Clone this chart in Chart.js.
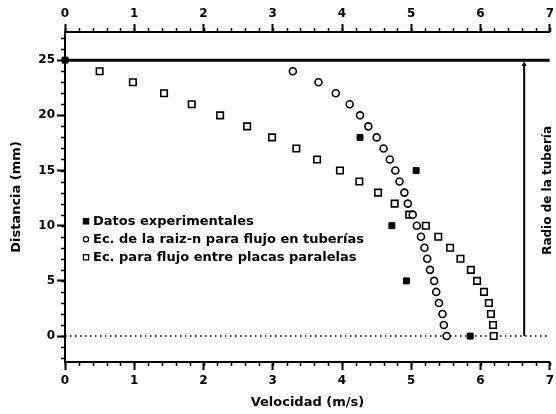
<!DOCTYPE html>
<html>
<head>
<meta charset="utf-8">
<script src="https://cdn.jsdelivr.net/npm/chart.js@4"></script>
<style>
    html, body { margin: 0; padding: 0; background: #ffffff; }
    #wrap { width: 556px; height: 414px; }
</style>
</head>
<body>
<div id="wrap"><canvas id="chart" width="556" height="414"></canvas></div>
<script>

// ==========================================================
// DATA
// ==========================================================

// distance from the pipe centre (mm) for the model curves
const modelDistance = [
    0, 1, 2, 3, 4, 5, 6, 7, 8, 9, 10, 11, 12,
    13, 14, 15, 16, 17, 18, 19, 20, 21, 22, 23, 24
];

// Ec. de la raiz-n (m/s)
const rootNVelocity = [
    5.51, 5.47, 5.45, 5.40, 5.36, 5.33, 5.27, 5.23, 5.19,
    5.14, 5.08, 5.02, 4.95, 4.90, 4.83, 4.77, 4.69, 4.60,
    4.50, 4.38, 4.26, 4.11, 3.91, 3.66, 3.29
];

// Ec. placas paralelas (m/s)
const plateVelocity = [
    6.19, 6.18, 6.15, 6.12, 6.05, 5.95, 5.86, 5.71, 5.56,
    5.39, 5.21, 4.97, 4.76, 4.52, 4.25, 3.97, 3.64, 3.34,
    2.99, 2.63, 2.24, 1.83, 1.43, 0.98, 0.50
];

// experimental points
const expDistance = [0, 5, 10, 15, 18, 25];
const expVelocity = [5.85, 4.93, 4.72, 5.07, 4.26, 0];

// reference lines
const wallDistance = 25;
const centreDistance = 0;
const radiusArrowX = 6.63;
const radiusArrowTop = 24.6;

// axes
const xMin = 0;
const xMax = 7;
const yMin = -2.35;
const yMax = 27.55;
const xTicks = [0, 1, 2, 3, 4, 5, 6, 7];
const yTicks = [0, 5, 10, 15, 20, 25];
const xMinorStep = 0.2;
const yMinorStep = 1;

const seriesLabels = [
    "Datos experimentales",
    "Ec. de la raiz-n para flujo en tuberías",
    "Ec. para flujo entre placas paralelas"
];

const radiusLabel = "Radio de la tubería";

// ==========================================================
// HELPERS
// ==========================================================

function toPoints(xs, ys) {
    return xs.map((x, i) => ({ x: x, y: ys[i] }));
}

const FONT = "'DejaVu Sans', 'Liberation Sans', Arial, sans-serif";

function setTicks(list) {
    return scale => {
        scale.ticks = list.map(v => ({ value: v }));
    };
}

// ==========================================================
// MINOR TICKS + LEGEND + RADIUS TEXT
// ==========================================================

const decorPlugin = {

    id: "decor",

    afterDraw(chart) {

        const ctx = chart.ctx;
        const area = chart.chartArea;
        const xs = chart.scales.x;
        const ys = chart.scales.y;

        ctx.save();
        ctx.strokeStyle = "#000";
        ctx.lineWidth = 1.5;

        // minor ticks, x (top and bottom)
        ctx.beginPath();
        for (let v = xMin; v <= xMax + 1e-6; v += xMinorStep) {
            const px = Math.round(xs.getPixelForValue(v)) + 0.5;
            ctx.moveTo(px, area.bottom);
            ctx.lineTo(px, area.bottom + 4);
            ctx.moveTo(px, area.top);
            ctx.lineTo(px, area.top - 4);
        }
        // minor ticks, y
        for (let v = Math.ceil(yMin); v <= yMax; v += yMinorStep) {
            const py = Math.round(ys.getPixelForValue(v)) + 0.5;
            ctx.moveTo(area.left, py);
            ctx.lineTo(area.left - 4, py);
        }
        ctx.stroke();

        // legend
        const lx = area.left + 21;
        const ly = ys.getPixelForValue(10.4);
        ctx.font = "bold 13px " + FONT;
        ctx.fillStyle = "#000";
        ctx.textBaseline = "middle";
        ctx.textAlign = "left";

        [0, 1, 2].forEach(i => {
            const ds = chart.data.datasets[i];
            const y = ly + i * 18;
            ctx.lineWidth = 1.3;
            ctx.fillStyle = ds.backgroundColor;
            ctx.strokeStyle = "#000";
            if (ds.pointStyle === "circle") {
                ctx.beginPath();
                ctx.arc(lx, y, 2.6, 0, Math.PI * 2);
                ctx.fill();
                ctx.stroke();
            } else {
                ctx.fillRect(lx - 2.6, y - 2.6, 5.2, 5.2);
                ctx.strokeRect(lx - 2.6, y - 2.6, 5.2, 5.2);
            }
            ctx.fillStyle = "#000";
            ctx.fillText(ds.label, lx + 7, y + 0.5);
        });

        // radius text
        ctx.font = "bold 12px " + FONT;
        const tx = xs.getPixelForValue(radiusArrowX) + 24;
        const ty = ys.getPixelForValue(13.2);
        ctx.translate(tx, ty);
        ctx.rotate(-Math.PI / 2);
        ctx.textAlign = "center";
        ctx.fillText(radiusLabel, 0, 0);

        ctx.restore();
    }
};

// ==========================================================
// CHART
// ==========================================================

const tickFont = { family: FONT, size: 12, weight: "bold" };
const titleFont = { family: FONT, size: 13, weight: "bold" };

const axisGrid = {
    drawOnChartArea: false,
    tickLength: 8,
    tickColor: "#000",
    tickWidth: 2
};

const axisBorder = { color: "#000", width: 2 };

// keep the plot close to the right edge, like the original
function fitX(height) {
    return s => {
        s.height = height;
        s.paddingRight = 3;
    };
}

new Chart(document.getElementById("chart"), {

    type: "scatter",

    data: {
        datasets: [
            {
                label: seriesLabels[0],
                data: toPoints(expVelocity, expDistance),
                pointStyle: "rect",
                pointRadius: 4.2,
                backgroundColor: "#000",
                borderColor: "#000",
                borderWidth: 1,
                clip: false,
                order: 0
            },
            {
                label: seriesLabels[1],
                data: toPoints(rootNVelocity, modelDistance),
                pointStyle: "circle",
                pointRadius: 3.5,
                backgroundColor: "#fff",
                borderColor: "#000",
                borderWidth: 1.6,
                order: 0
            },
            {
                label: seriesLabels[2],
                data: toPoints(plateVelocity, modelDistance),
                pointStyle: "rect",
                pointRadius: 4.6,
                backgroundColor: "#fff",
                borderColor: "#000",
                borderWidth: 1.6,
                order: 0
            },
            {
                label: "wall",
                data: [{ x: xMin, y: wallDistance }, { x: xMax, y: wallDistance }],
                showLine: true,
                borderColor: "#000",
                borderWidth: 3,
                pointRadius: 0,
                order: 1
            },
            {
                label: "centre",
                data: [{ x: xMin, y: centreDistance }, { x: xMax, y: centreDistance }],
                showLine: true,
                borderColor: "#000",
                borderWidth: 1.5,
                borderDash: [1.5, 3.5],
                pointRadius: 0,
                order: 2
            },
            {
                label: "radius",
                data: [
                    { x: radiusArrowX, y: centreDistance },
                    { x: radiusArrowX, y: radiusArrowTop }
                ],
                showLine: true,
                borderColor: "#000",
                borderWidth: 2,
                pointStyle: "triangle",
                pointRadius: [0, 3],
                backgroundColor: "#000",
                pointBorderWidth: 0,
                order: 1
            }
        ]
    },

    options: {

        responsive: false,
        animation: false,
        events: [],

        layout: { padding: 0 },

        plugins: {
            legend: { display: false },
            tooltip: { enabled: false }
        },

        scales: {

            x: {
                type: "linear",
                position: "bottom",
                min: xMin,
                max: xMax,
                afterBuildTicks: setTicks(xTicks),
                afterFit: fitX(52),
                grid: axisGrid,
                border: axisBorder,
                ticks: {
                    color: "#000",
                    font: tickFont,
                    padding: 4,
                    maxRotation: 0
                },
                title: {
                    display: true,
                    text: "Velocidad (m/s)",
                    color: "#000",
                    font: titleFont,
                    padding: { top: 0, bottom: 4 }
                }
            },

            xTop: {
                type: "linear",
                position: "top",
                min: xMin,
                max: xMax,
                afterBuildTicks: setTicks(xTicks),
                afterFit: fitX(32),
                grid: axisGrid,
                border: axisBorder,
                ticks: {
                    color: "#000",
                    font: tickFont,
                    padding: 3,
                    maxRotation: 0
                }
            },

            y: {
                type: "linear",
                position: "left",
                min: yMin,
                max: yMax,
                afterBuildTicks: setTicks(yTicks),
                afterFit: s => { s.width = 65; },
                grid: axisGrid,
                border: axisBorder,
                ticks: {
                    color: "#000",
                    font: tickFont,
                    padding: 2
                },
                title: {
                    display: true,
                    text: "Distancia (mm)",
                    color: "#000",
                    font: titleFont,
                    padding: { top: 9, bottom: 0 }
                }
            }
        }
    },

    plugins: [decorPlugin]
});

</script>
</body>
</html>
